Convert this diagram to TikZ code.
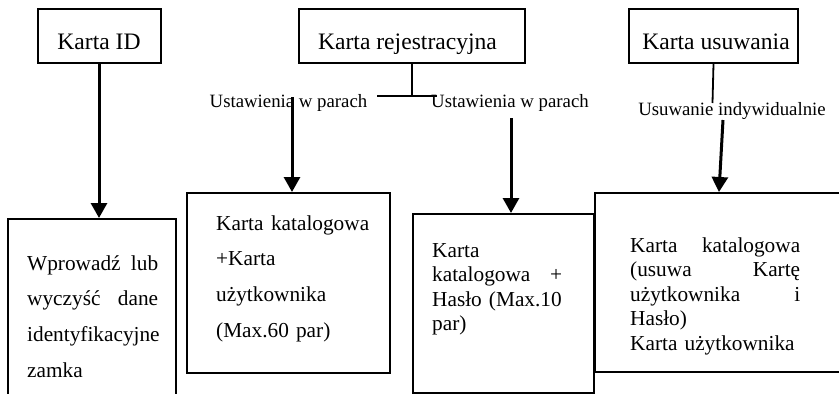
\documentclass[tikz,border=0pt]{standalone}
\usepackage{fontspec}
\setmainfont{Liberation Serif}
\usetikzlibrary{arrows.meta}
\begin{document}
\begin{tikzpicture}[x=1pt,y=-1pt,
  box/.style={draw,line width=2pt,rectangle,inner sep=0pt,anchor=north west},
  title/.style={font=\fontsize{23.6}{28}\selectfont,inner sep=0pt,anchor=base},
  lbl/.style={font=\fontsize{18.8}{22}\selectfont,inner sep=0pt,anchor=base},
  wide/.style={font=\fontsize{21.3}{35.7}\selectfont,inner sep=0pt,anchor=base west,align=left},
  tight/.style={font=\fontsize{21.3}{24.5}\selectfont,inner sep=0pt,anchor=base west,align=left},
  conn/.style={line width=1.8pt},
  arr/.style={line width=3pt,-{Triangle[length=15pt,width=16pt]}}]
\useasboundingbox (0,0) rectangle (839,394);
\clip (0,0) rectangle (839,394);
% top boxes
\node[box,minimum width=123pt,minimum height=54pt] (idbox) at (37,8) {};
\node[box,minimum width=226pt,minimum height=54pt] (regbox) at (298,8) {};
\node[box,minimum width=169pt,minimum height=54pt] (usbox) at (628,8) {};
\node[title] (idt) at (99,49) {Karta ID};
\node[title] (regt) at (407.5,49) {Karta rejestracyjna};
\node[title] (ust) at (716,49) {Karta usuwania};
% lower boxes
\node[box,minimum width=168pt,minimum height=200pt] (b1) at (7,218) {};
\node[box,minimum width=203pt,minimum height=180pt] (b2) at (186,192) {};
\node[box,minimum width=181pt,minimum height=179pt] (b3) at (412,213) {};
\node[box,minimum width=260pt,minimum height=179pt] (b4) at (594,192) {};
% labels
\node[lbl] (l1) at (288.5,107) {Ustawienia w parach};
\node[lbl] (l2) at (510,107) {Ustawienia w parach};
\node[lbl] (l3) at (732,115) {Usuwanie indywidualnie};
% body texts
\node[wide,text width=131pt] (t1) at (27,270) {\noindent Wprowadź\hfill lub\\wyczyść\hfill dane\\identyfikacyjne\\zamka};
\node[wide,text width=153pt] (t2) at (216,230) {\noindent Karta\hfill katalogowa\\+Karta\\użytkownika\\(Max.60 par)};
\node[tight,text width=130pt] (t3) at (432,257) {\noindent Karta\\katalogowa\hfill +\\Hasło (Max.10\\par)};
\node[tight,text width=170pt] (t4) at (630,252) {\noindent Karta\hfill katalogowa\\(usuwa\hfill Kartę\\użytkownika\hfill i\\Hasło)\\Karta użytkownika};
% connectors
\coordinate (rj) at (412,96);
\coordinate (rjl) at (377,96);
\coordinate (rjr) at (437,96);
\coordinate (a2s) at (292,97);
\coordinate (a3s) at (511,118);
\coordinate (uj) at (712.5,103);
\coordinate (a4s) at (723,120);
\coordinate (a4e) at (719,192);
\draw[arr] (idbox.south -| 99,0) -- (99,0 |- b1.north);
\draw[conn] (regbox.south) -- (rj);
\draw[conn] (rjl) -- (rjr);
\draw[arr] (a2s) -- (a2s |- b2.north);
\draw[arr] (a3s) -- (a3s |- b3.north);
\draw[conn] (usbox.south) -- (uj);
\draw[arr] (a4s) -- (a4e);
\end{tikzpicture}
\end{document}
